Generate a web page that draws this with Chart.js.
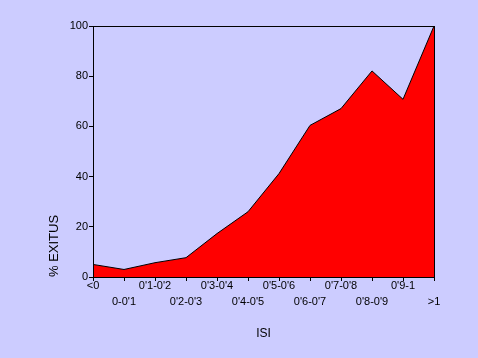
<!DOCTYPE html>
<html><head><meta charset="utf-8">
<script src="https://cdn.jsdelivr.net/npm/chart.js@4"></script>
<style>html,body{margin:0;padding:0;background:#CCCCFF;}#w{width:478px;height:358px;}</style>
</head><body><div id="w"><canvas id="c"></canvas></div>
<script>
const categories = ["<0","0-0'1","0'1-0'2","0'2-0'3","0'3-0'4","0'4-0'5","0'5-0'6","0'6-0'7","0'7-0'8","0'8-0'9","0'9-1",">1"];
const exitus = [5, 3, 5.7, 7.7, 17.3, 26, 41.2, 60.4, 67.1, 82.1, 70.8, 100];
const yTicks = [0, 20, 40, 60, 80, 100];

const boxPlugin = {
  id: 'box',
  beforeDraw(chart) {
    const ctx = chart.ctx;
    ctx.save(); ctx.fillStyle = '#CCCCFF'; ctx.fillRect(0, 0, chart.width, chart.height); ctx.restore();
  },
  afterDraw(chart) {
    const a = chart.chartArea, ctx = chart.ctx;
    ctx.save(); ctx.strokeStyle = '#000'; ctx.lineWidth = 1;
    ctx.strokeRect(Math.round(a.left) + 0.5, Math.round(a.top) + 0.5, Math.round(a.right - a.left), Math.round(a.bottom - a.top));
    ctx.restore();
  }
};

new Chart(document.getElementById('c'), {
  type: 'line',
  data: {
    labels: categories,
    datasets: [{
      data: exitus,
      fill: 'origin',
      backgroundColor: '#FF0000',
      borderColor: '#000000',
      borderWidth: 1,
      pointRadius: 0,
      tension: 0
    }]
  },
  options: {
    responsive: true, maintainAspectRatio: false, animation: false,
    devicePixelRatio: 1,
    layout: { padding: { left: 0, right: 44, top: 26, bottom: 0 } },
    plugins: { legend: { display: false }, tooltip: { enabled: false } },
    scales: {
      x: {
        offset: false,
        afterFit(s) { s.height = 81; },
        grid: { drawOnChartArea: false, color: '#000', tickLength: 4 },
        border: { color: '#000', width: 1 },
        ticks: {
          color: '#000', autoSkip: false, maxRotation: 0, padding: -3,
          font: { family: 'Liberation Sans, Arial, sans-serif', size: 11, lineHeight: 16/11 },
          callback(v, i) { return i % 2 === 0 ? [categories[i]] : ['', categories[i]]; }
        },
        title: { display: true, text: 'ISI', color: '#000', padding: { top: 0, bottom: 17 },
          font: { family: 'Liberation Sans, Arial, sans-serif', size: 12 } }
      },
      y: {
        min: 0, max: 100,
        afterFit(s) { s.width = 93; },
        afterBuildTicks(s) { s.ticks = yTicks.map(v => ({ value: v })); },
        grid: { drawOnChartArea: false, color: '#000', tickLength: 4 },
        border: { color: '#000', width: 1 },
        ticks: { color: '#000', padding: 1,
          font: { family: 'Liberation Sans, Arial, sans-serif', size: 11 } },
        title: { display: true, text: '% EXITUS', color: '#000', align: 'start', padding: { top: 47, bottom: 0 },
          font: { family: 'Liberation Sans, Arial, sans-serif', size: 13 } }
      }
    }
  },
  plugins: [boxPlugin]
});
</script></body></html>
